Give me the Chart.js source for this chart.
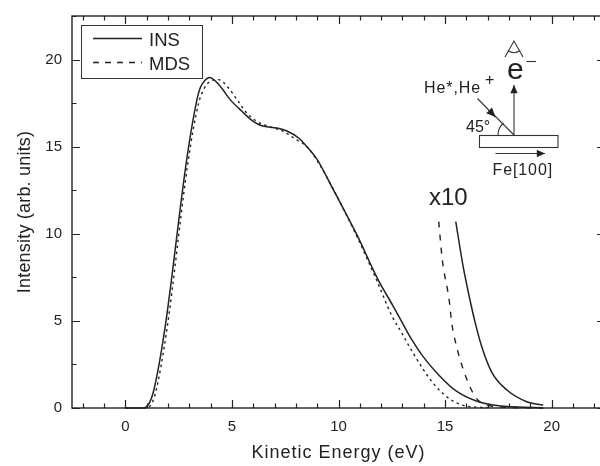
<!DOCTYPE html>
<html><head><meta charset="utf-8">
<style>html,body{margin:0;padding:0;background:#fff;overflow:hidden;width:600px;height:466px}
#w{width:600px;height:466px;overflow:hidden}canvas{display:block}</style>
<script src="https://cdn.jsdelivr.net/npm/chart.js@4/dist/chart.umd.min.js"></script>
</head><body><div id="w"><canvas id="c" width="620" height="466" style="width:620px;height:466px"></canvas></div>
<script>
const insX=[0,0.8,1.0,1.3,1.85,2.89,3.36,3.52,3.7,3.95,4.45,4.92,5.47,6.0,6.4,7.11,7.58,8.13,8.52,8.98,9.77,10.9,11.8,12.56,12.9,13.4,13.97,14.7,15.55,16.64,17.9,19.6];
const insY=[0,0,0.08,0.85,4.5,14.35,17.7,18.4,18.75,18.97,18.47,17.7,17.03,16.45,16.2,16.07,15.9,15.5,15.0,14.3,12.5,9.85,7.5,5.85,5.1,4.0,2.95,1.9,0.95,0.33,0.08,0.02];
const mdsX=[0,0.9,1.1,1.4,1.95,2.95,3.44,3.67,3.98,4.37,4.84,5.24,5.7,6.17,6.8,7.42,7.97,8.52,9,9.8,10.9,11.8,12.5,12.97,13.5,14.44,15.24,16.03,17];
const mdsY=[0,0,0.05,0.8,4.5,14.2,17.5,18.27,18.75,18.85,18.37,17.7,16.93,16.45,16.13,15.88,15.44,15,14.2,12.45,9.75,7.3,5.3,4.3,3.15,1.42,0.5,0.1,0.02];
const ins10X=[15.5,15.85,16.15,16.41,16.72,17.19,17.9,18.83,19.6];
const ins10Y=[10.7,8.1,6.3,4.9,3.52,2.05,1.03,0.36,0.17];
const mds10X=[14.7,14.87,15.19,15.31,15.52,15.86,16.41,16.96,18,19.6];
const mds10Y=[10.7,8.5,6.2,4.9,3.62,2.18,0.65,0.17,0.03,0];
const xLabels=[0,5,10,15,20];
const yLabels=[0,5,10,15,20];
const pts=(a,b)=>a.map((x,i)=>({x,y:b[i]}));
const ink='#222';
const spaced=(s,sp)=>{if(s._sp)return;s._sp=1;const o=s.drawTitle;s.drawTitle=function(a){const c=this.ctx;c.save();c.letterSpacing=sp;o.call(this,a);c.restore();};};
const frame={id:'frame',afterDatasetsDraw(ch){
  const {ctx,chartArea:a,scales:{x,y}}=ch;
  ctx.save();ctx.strokeStyle=ink;ctx.lineWidth=1.4;ctx.strokeRect(a.left,a.top,a.right-a.left,a.bottom-a.top);
  ctx.lineWidth=1.2;ctx.beginPath();
  for(let v=-2;v<=22;v++){const l=v%5===0?8:4.5,p=Math.round(x.getPixelForValue(v))+.5;
    ctx.moveTo(p,a.bottom);ctx.lineTo(p,a.bottom-l);ctx.moveTo(p,a.top);ctx.lineTo(p,a.top+l);}
  for(let i=0;i<=9;i++){const v=i*2.5,l=i%2===0?8:4.5,p=Math.round(y.getPixelForValue(v))+.5;
    ctx.moveTo(a.left,p);ctx.lineTo(a.left+l,p);ctx.moveTo(a.right,p);ctx.lineTo(a.right-l,p);}
  ctx.stroke();
  // legend
  ctx.strokeStyle='#333';ctx.lineWidth=1;ctx.strokeRect(81.5,25.5,121,53);
  ctx.strokeStyle=ink;ctx.lineWidth=1.3;
  ctx.beginPath();ctx.moveTo(93,38.5);ctx.lineTo(142,38.5);ctx.stroke();
  ctx.setLineDash([6,6]);ctx.beginPath();ctx.moveTo(93,62.5);ctx.lineTo(142,62.5);ctx.stroke();ctx.setLineDash([]);
  ctx.fillStyle=ink;ctx.font='18.5px "Liberation Sans"';ctx.textBaseline='alphabetic';ctx.textAlign='left';
  ctx.fillText('INS',149,46);ctx.fillText('MDS',149,70);
  // schematic
  const arrow=(x0,y0,x1,y1,s)=>{const t=Math.atan2(y1-y0,x1-x0);ctx.beginPath();ctx.moveTo(x0,y0);ctx.lineTo(x1,y1);ctx.stroke();
    ctx.beginPath();ctx.moveTo(x1,y1);ctx.lineTo(x1-s*Math.cos(t-.42),y1-s*Math.sin(t-.42));ctx.lineTo(x1-s*Math.cos(t+.42),y1-s*Math.sin(t+.42));ctx.closePath();ctx.fill();};
  ctx.lineWidth=1.1;ctx.strokeStyle='#333';ctx.fillStyle=ink;
  ctx.strokeRect(479.5,135.5,78.5,12);
  arrow(514,135,514,85,9);
  arrow(477.5,98.5,495.5,117,10);
  ctx.beginPath();ctx.moveTo(494,115);ctx.lineTo(514,135);ctx.stroke();
  arrow(495.5,153.5,545,153.5,9);
  ctx.beginPath();ctx.arc(514,135,16,Math.PI,Math.PI*1.27);ctx.stroke();
  ctx.beginPath();ctx.moveTo(505,57);ctx.lineTo(514,41);ctx.lineTo(523,57);ctx.stroke();
  ctx.beginPath();ctx.arc(514,42,10.5,Math.PI*.3,Math.PI*.7);ctx.stroke();
  ctx.font='16px "Liberation Sans"';ctx.letterSpacing='0.9px';
  ctx.fillText('He*,He',424,93);ctx.fillText('Fe[100]',492.5,175);
  ctx.letterSpacing='0px';
  ctx.fillText('+',485,85);
  ctx.fillText('45°',466,132);
  ctx.font='30px "Liberation Sans"';ctx.fillText('e',507,79);
  ctx.beginPath();ctx.moveTo(526.5,61.5);ctx.lineTo(536,61.5);ctx.stroke();
  ctx.font='24px "Liberation Sans"';ctx.fillText('x10',429,205);
  ctx.restore();
}};
const line=(label,data,dash,w)=>({label,data,borderColor:ink,borderWidth:w,borderDash:dash,pointRadius:0,cubicInterpolationMode:'monotone',fill:false,clip:false});
new Chart(document.getElementById('c'),{type:'line',
  data:{datasets:[line('INS',pts(insX,insY),[],1.5),line('MDS',pts(mdsX,mdsY),[2.5,3.5],1.4),
    line('INS x10',pts(ins10X,ins10Y),[],1.5),line('MDS x10',pts(mds10X,mds10Y),[6,7],1.4)]},
  options:{responsive:false,animation:false,devicePixelRatio:1,
    layout:{padding:{left:0,top:16,right:15,bottom:0}},
    plugins:{legend:{display:false},tooltip:{enabled:false},title:{display:false}},
    scales:{
      x:{type:'linear',min:-2.5,max:22.5,afterFit(s){s.height=58;spaced(s,'1px');},
        grid:{display:false},border:{display:false},
        ticks:{stepSize:2.5,autoSkip:false,maxRotation:0,color:ink,padding:2,font:{family:'Liberation Sans',size:15},
          callback:v=>xLabels.includes(v)?String(v):''},
        title:{display:true,text:'Kinetic Energy (eV)',color:ink,font:{family:'Liberation Sans',size:18},padding:{top:4,bottom:2}}},
      y:{type:'linear',min:0,max:22.5,afterFit(s){s.width=72;spaced(s,'0.2px');},
        grid:{display:false},border:{display:false},
        ticks:{stepSize:2.5,autoSkip:false,color:ink,padding:2,font:{family:'Liberation Sans',size:15},
          callback:v=>yLabels.includes(v)?String(v):''},
        title:{display:true,text:'Intensity (arb. units)',color:ink,font:{family:'Liberation Sans',size:18},padding:{top:14,bottom:4}}}
    }},
  plugins:[frame]});
</script></body></html>
